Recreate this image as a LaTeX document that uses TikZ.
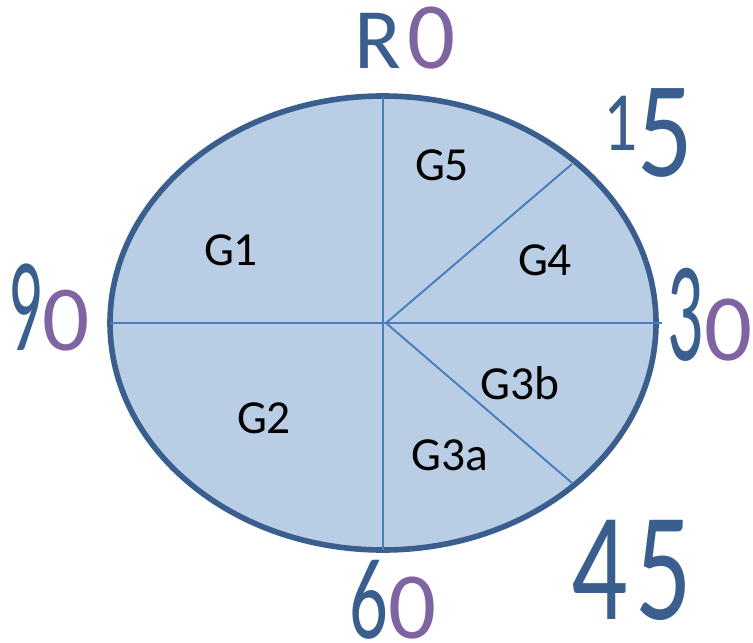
\documentclass[tikz,border=0pt]{standalone}
\usepackage{graphicx}
\usepackage{fontspec}
\setmainfont{Carlito}
\definecolor{diskfill}{RGB}{185,205,228}
\definecolor{diskedge}{RGB}{58,95,143}
\definecolor{divline}{RGB}{74,126,187}
\definecolor{inkblue}{RGB}{58,95,143}
\definecolor{inkpurple}{RGB}{128,100,162}
\begin{document}
\begin{tikzpicture}[
        x=0.02cm, y=-0.02cm,
        group/.style={font=\fontsize{27}{30}\selectfont, text=black, inner sep=0pt},
        ink/.style={inner sep=0pt, text=inkblue},
        divider/.style={draw=divline, line width=1.1pt}
    ]
    \useasboundingbox (0,0) rectangle (753,642);

    % Disk
    \filldraw[fill=diskfill, draw=diskedge, line width=3.2pt] (383,323) ellipse (273 and 227);

    % Divider ends
    \coordinate (hub) at (386,323);
    \coordinate (top) at (383,97);
    \coordinate (bottom) at (383,550);
    \coordinate (left) at (110,323);
    \coordinate (right) at (662,323);
    \coordinate (upper) at (572,164);
    \coordinate (lower) at (572,483);

    \draw[divider] (top) -- (bottom);
    \draw[divider] (left) -- (right);
    \draw[divider] (hub) -- (upper);
    \draw[divider] (hub) -- (lower);

    % Group labels
    \node[group] (g1) at (231,250) {G1};
    \node[group] (g2) at (264,418) {G2};
    \node[group] (g3a) at (450,455) {G3a};
    \node[group] (g3b) at (520,383) {G3b};
    \node[group] (g4) at (545,260) {G4};
    \node[group] (g5) at (442,165) {G5};

    % Handwritten marks
    \node[ink] (m0) at (405,38)
        {\fontsize{49}{50}\selectfont R\hspace{4pt}{\color{inkpurple}\fontsize{54}{54}\selectfont 0}};
    \node[ink] (m15) at (648,133)
        {\scalebox{0.8}[1]{\raisebox{15pt}{\fontsize{48}{48}\selectfont 1}\fontsize{78}{78}\selectfont 5}};
    \node[ink] (m30) at (710,315)
        {\scalebox{0.5}[1]{\fontsize{81}{81}\selectfont 3}{\color{inkpurple}\fontsize{54}{54}\selectfont 0}};
    \node[ink] (m45) at (632,570)
        {\scalebox{0.72}[1]{\fontsize{88}{88}\selectfont 4\hspace{6pt}5}};
    \node[ink] (m60) at (393,600)
        {\scalebox{0.66}[1]{\fontsize{66}{66}\selectfont 6}{\color{inkpurple}\fontsize{54}{54}\selectfont 0}};
    \node[ink] (m90) at (49,307)
        {\scalebox{0.5}[1]{\fontsize{76}{76}\selectfont 9}{\color{inkpurple}\fontsize{53}{53}\selectfont 0}};

\end{tikzpicture}
\end{document}
